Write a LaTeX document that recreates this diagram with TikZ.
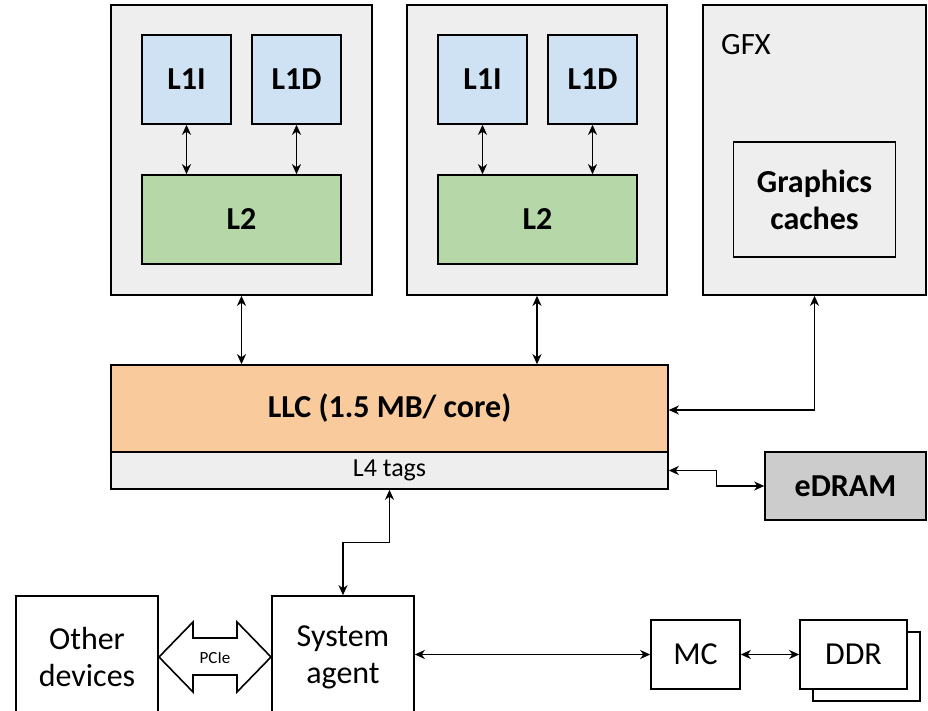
\documentclass[tikz,border=0pt]{standalone}
\usepackage{fontspec}
\setmainfont{Carlito}
\usetikzlibrary{arrows.meta,calc}
\definecolor{boxgray}{HTML}{EEEEEE}
\definecolor{lone}{HTML}{CFE2F3}
\definecolor{ltwo}{HTML}{B6D7A8}
\definecolor{llcc}{HTML}{F9CB9C}
\definecolor{edramc}{HTML}{CCCCCC}
\tikzset{
  blk/.style={draw=black, line width=1.6pt, inner sep=0pt, align=center,
    font=\fontsize{32}{37}\selectfont},
  bblk/.style={blk, font=\fontsize{32}{37}\selectfont\bfseries},
  arr/.style={line width=1.4pt, {Stealth[length=10pt,width=9pt,inset=3pt]}-{Stealth[length=10pt,width=9pt,inset=3pt]}}
}
\begin{document}
\begin{tikzpicture}[x=1pt,y=-1pt]
\useasboundingbox (0,0) rectangle (928,711);
\clip (0,0) rectangle (928,711);
% cores
\node[blk, fill=boxgray, minimum width=261, minimum height=290] (core1) at (241.5,150) {};
\node[bblk, fill=lone, minimum width=89, minimum height=89] (l1ia) at (186.5,79.5) {L1I};
\node[bblk, fill=lone, minimum width=89, minimum height=89] (l1da) at (296.5,79.5) {L1D};
\node[bblk, fill=ltwo, minimum width=199, minimum height=89] (l2a) at (241.5,219.5) {L2};
\node[blk, fill=boxgray, minimum width=260, minimum height=290] (core2) at (537,150) {};
\node[bblk, fill=lone, minimum width=89, minimum height=89] (l1ib) at (482.5,79.5) {L1I};
\node[bblk, fill=lone, minimum width=89, minimum height=89] (l1db) at (592.5,79.5) {L1D};
\node[bblk, fill=ltwo, minimum width=199, minimum height=89] (l2b) at (537.5,219.5) {L2};
% GFX
\node[blk, fill=boxgray, minimum width=223, minimum height=290] (gfx) at (814.5,150) {};
\node[font=\fontsize{31}{34}\selectfont, anchor=west, inner sep=0pt] (gfxlbl) at (721,45) {GFX};
\node[bblk, fill=boxgray, minimum width=162, minimum height=115] (gc) at (814.5,199.5) {Graphics\\caches};
% LLC
\node[bblk, fill=llcc, minimum width=557, minimum height=87] (llc) at (389.5,408.5) {LLC (1.5 MB/ core)};
\node[blk, fill=boxgray, minimum width=557, minimum height=37, font=\fontsize{26}{30}\selectfont] (l4) at (389.5,470.5) {L4 tags};
\node[bblk, fill=edramc, minimum width=161, minimum height=68] (edram) at (845.5,486) {eDRAM};
% bottom
\node[blk, minimum width=142, minimum height=122] (other) at (87,657) {Other\\devices};
\node[blk, minimum width=142, minimum height=122] (sa) at (343,657) {System\\agent};
\node[blk, minimum width=89, minimum height=69] (mc) at (695.5,654.5) {MC};
\node[blk, fill=white, minimum width=107, minimum height=69] (ddrb) at (866.5,666.5) {};
\node[blk, fill=white, minimum width=107, minimum height=69] (ddr) at (853.5,654.5) {DDR};
% PCIe arrow
\draw[line width=1.6pt, fill=white] (159,657) -- (193,622) -- (193,638) -- (237,638) -- (237,622) -- (271,657) -- (237,692) -- (237,675) -- (193,675) -- (193,692) -- cycle;
\node[font=\fontsize{17}{20}\selectfont, inner sep=0pt] (pcie) at (215,658) {PCIe};
% connectors
\draw[arr] (l1ia.south) -- (l1ia.south |- l2a.north);
\draw[arr] (l1da.south) -- (l1da.south |- l2a.north);
\draw[arr] (l1ib.south) -- (l1ib.south |- l2b.north);
\draw[arr] (l1db.south) -- (l1db.south |- l2b.north);
\draw[arr] (core1.south) -- (core1.south |- llc.north);
\draw[arr] (core2.south) -- (core2.south |- llc.north);
\draw[arr] (gfx.south) |- ([yshift=-1.5pt]llc.east);
\draw[arr] (l4.east) -| ($(l4.east)!0.5!(edram.west)$) |- (edram.west);
\draw[arr] (l4.south) |- ($(l4.south)!0.5!(sa.north)$) -| (sa.north);
\draw[arr] (mc.west -| sa.east) -- (mc.west);
\draw[arr] (mc.east) -- (ddr.west);
\end{tikzpicture}
\end{document}
